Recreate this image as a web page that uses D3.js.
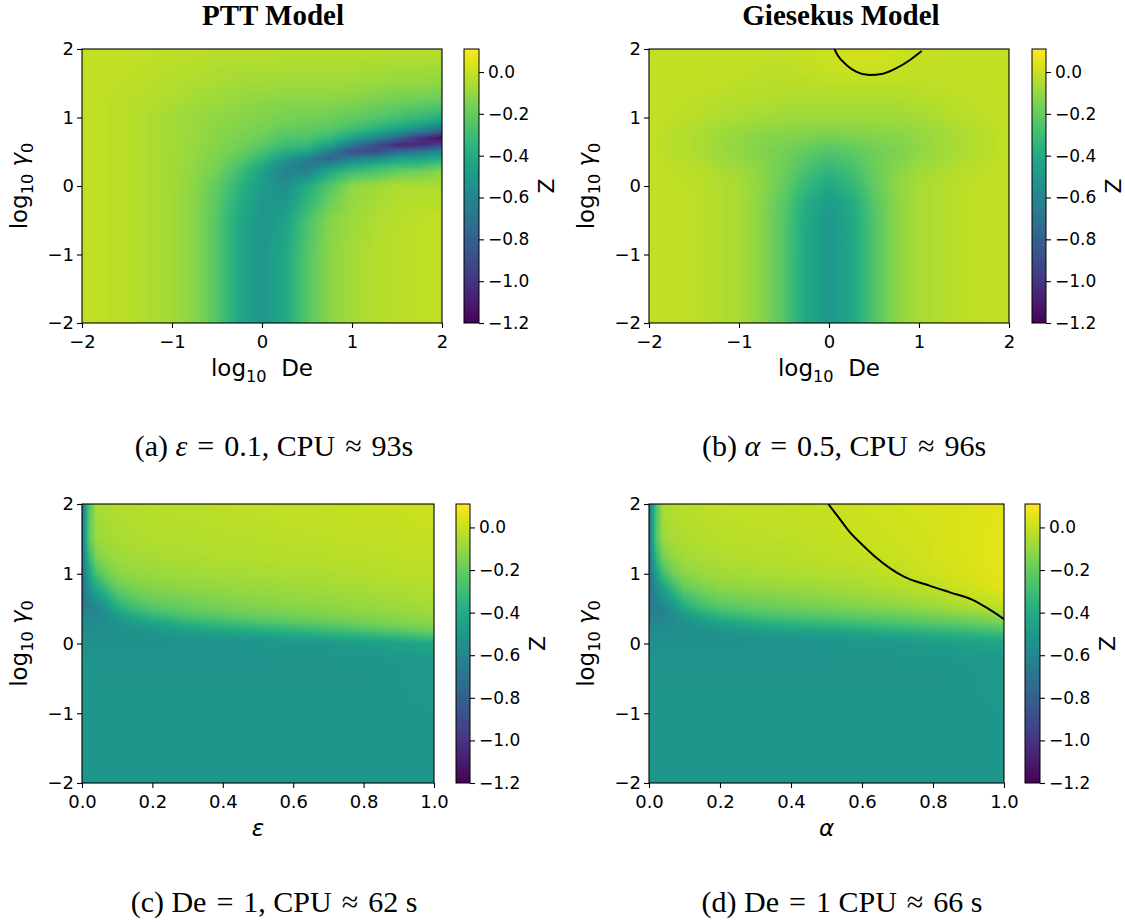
<!DOCTYPE html>
<html>
<head>
<meta charset="utf-8">
<script src="https://cdn.jsdelivr.net/npm/d3@7"></script>
<style>
  body { margin: 0; background: #fff; }
  svg { display: block; }
  text { white-space: pre; }
</style>
</head>
<body>
<svg id="fig" width="1125" height="922"></svg>
<script>
// colour range of the four maps
const zMin = -1.2, zMax = 0.11;
const cbarTicks = [0, -0.2, -0.4, -0.6, -0.8, -1.0, -1.2];
const logTicks = [-2, -1, 0, 1, 2];
const unitTicks = [0, 0.2, 0.4, 0.6, 0.8, 1.0];

// (a) PTT model, Z over log10 De (columns) and log10 gamma0 (rows, bottom first)
const pttDe = [-2, -1.5, -1, -0.75, -0.5, -0.25, 0, 0.25, 0.5, 0.75, 1, 1.25, 1.5, 1.75, 2];
const pttGamma = [-2, -1, -0.5, 0, 0.2, 0.3, 0.4, 0.5, 0.6, 0.7, 0.8, 0.9, 1, 1.25, 1.5, 2];
const pttZ = [
  [-0.01,-0.03,-0.07,-0.12,-0.24,-0.42,-0.51,-0.42,-0.24,-0.12,-0.07,-0.04,-0.03,-0.02,-0.01],
  [-0.01,-0.03,-0.07,-0.12,-0.24,-0.42,-0.51,-0.42,-0.24,-0.12,-0.07,-0.04,-0.03,-0.02,-0.01],
  [-0.01,-0.03,-0.07,-0.12,-0.24,-0.42,-0.51,-0.45,-0.27,-0.13,-0.08,-0.05,-0.03,-0.02,-0.01],
  [-0.01,-0.03,-0.07,-0.12,-0.21,-0.35,-0.49,-0.56,-0.40,-0.24,-0.11,-0.08,-0.05,-0.05,-0.05],
  [-0.01,-0.03,-0.07,-0.11,-0.17,-0.30,-0.45,-0.62,-0.60,-0.40,-0.29,-0.25,-0.19,-0.16,-0.12],
  [-0.01,-0.03,-0.07,-0.11,-0.16,-0.26,-0.40,-0.58,-0.68,-0.57,-0.42,-0.36,-0.31,-0.30,-0.23],
  [-0.01,-0.03,-0.07,-0.10,-0.15,-0.22,-0.33,-0.48,-0.64,-0.78,-0.65,-0.57,-0.47,-0.43,-0.38],
  [-0.01,-0.03,-0.07,-0.10,-0.14,-0.19,-0.27,-0.38,-0.42,-0.65,-0.90,-0.89,-0.76,-0.68,-0.59],
  [-0.01,-0.03,-0.07,-0.10,-0.13,-0.17,-0.22,-0.30,-0.32,-0.44,-0.67,-0.89,-1.06,-1.04,-0.95],
  [-0.01,-0.03,-0.07,-0.09,-0.12,-0.15,-0.19,-0.25,-0.26,-0.32,-0.45,-0.59,-0.78,-1.01,-1.16],
  [-0.01,-0.03,-0.07,-0.09,-0.12,-0.14,-0.17,-0.21,-0.22,-0.25,-0.32,-0.40,-0.51,-0.65,-0.82],
  [-0.01,-0.03,-0.07,-0.09,-0.11,-0.13,-0.15,-0.18,-0.19,-0.21,-0.25,-0.30,-0.36,-0.43,-0.54],
  [-0.01,-0.03,-0.07,-0.09,-0.11,-0.12,-0.14,-0.16,-0.17,-0.18,-0.21,-0.24,-0.28,-0.32,-0.38],
  [-0.01,-0.03,-0.05,-0.07,-0.08,-0.10,-0.11,-0.12,-0.12,-0.12,-0.13,-0.15,-0.17,-0.18,-0.20],
  [-0.01,-0.02,-0.04,-0.05,-0.06,-0.07,-0.07,-0.08,-0.08,-0.08,-0.08,-0.09,-0.10,-0.10,-0.11],
  [-0.01,-0.01,-0.02,-0.02,-0.03,-0.03,-0.03,-0.03,-0.03,-0.03,-0.03,-0.03,-0.03,-0.03,-0.03]
];

// (b) Giesekus model
const gieDe = [-2, -1.5, -1, -0.75, -0.5, -0.25, 0, 0.25, 0.5, 0.75, 1, 1.5, 2];
const gieGamma = [-2, -1, -0.5, -0.25, 0, 0.25, 0.5, 0.75, 1, 1.25, 1.5, 1.75, 2];
const gieZ = [
  [-0.01,-0.02,-0.06,-0.12,-0.24,-0.42,-0.51,-0.43,-0.25,-0.12,-0.06,-0.02,-0.01],
  [-0.01,-0.02,-0.06,-0.12,-0.24,-0.42,-0.51,-0.43,-0.25,-0.12,-0.06,-0.02,-0.01],
  [-0.01,-0.02,-0.06,-0.12,-0.24,-0.41,-0.51,-0.42,-0.25,-0.12,-0.06,-0.02,-0.01],
  [-0.01,-0.02,-0.06,-0.12,-0.23,-0.39,-0.48,-0.40,-0.24,-0.12,-0.06,-0.02,-0.01],
  [-0.01,-0.02,-0.06,-0.11,-0.20,-0.33,-0.42,-0.34,-0.21,-0.11,-0.06,-0.02,-0.01],
  [-0.01,-0.03,-0.08,-0.12,-0.18,-0.27,-0.33,-0.28,-0.19,-0.13,-0.08,-0.03,-0.01],
  [-0.01,-0.05,-0.11,-0.14,-0.17,-0.21,-0.25,-0.22,-0.18,-0.15,-0.11,-0.05,-0.01],
  [-0.01,-0.05,-0.10,-0.12,-0.13,-0.14,-0.15,-0.14,-0.13,-0.12,-0.10,-0.05,-0.01],
  [-0.01,-0.03,-0.06,-0.07,-0.08,-0.08,-0.08,-0.08,-0.08,-0.08,-0.07,-0.03,-0.01],
  [-0.01,-0.02,-0.04,-0.04,-0.05,-0.05,-0.05,-0.05,-0.05,-0.05,-0.04,-0.02,-0.01],
  [-0.01,-0.01,-0.02,-0.03,-0.03,-0.03,-0.02,-0.02,-0.02,-0.02,-0.02,-0.01,-0.01],
  [-0.01,-0.01,-0.01,-0.02,-0.02,-0.01, 0.00, 0.01, 0.01, 0.00,-0.01,-0.01,-0.01],
  [-0.01,-0.01,-0.01,-0.01,-0.01, 0.00, 0.01, 0.02, 0.02, 0.01, 0.00,-0.01,-0.01]
];
// black contour line in (b), [log10 De, log10 gamma0]
const gieContour = [[0.06, 2.0], [0.1, 1.9], [0.2, 1.76], [0.3, 1.67], [0.45, 1.62], [0.6, 1.64], [0.75, 1.72], [0.9, 1.84], [1.03, 1.97]];

// (c) PTT, De = 1, Z over epsilon (columns) and log10 gamma0 (rows)
const epsVals = [0, 0.01, 0.02, 0.04, 0.07, 0.1, 0.15, 0.2, 0.3, 0.4, 0.5, 0.6, 0.7, 0.8, 0.9, 1.0];
const epsGamma = [-2, -1, -0.25, 0, 0.1, 0.2, 0.3, 0.4, 0.5, 0.6, 0.8, 1, 1.25, 1.5, 2];
const epsZ = [
  [-0.51,-0.51,-0.51,-0.51,-0.51,-0.51,-0.51,-0.51,-0.51,-0.51,-0.51,-0.51,-0.51,-0.51,-0.51,-0.51],
  [-0.51,-0.51,-0.51,-0.51,-0.51,-0.51,-0.51,-0.51,-0.51,-0.51,-0.51,-0.51,-0.51,-0.51,-0.51,-0.51],
  [-0.52,-0.52,-0.52,-0.52,-0.52,-0.52,-0.52,-0.52,-0.52,-0.52,-0.52,-0.52,-0.52,-0.52,-0.51,-0.50],
  [-0.54,-0.54,-0.54,-0.54,-0.54,-0.54,-0.54,-0.54,-0.53,-0.53,-0.52,-0.51,-0.50,-0.48,-0.45,-0.41],
  [-0.55,-0.54,-0.54,-0.54,-0.54,-0.54,-0.54,-0.53,-0.51,-0.49,-0.47,-0.44,-0.41,-0.37,-0.33,-0.28],
  [-0.58,-0.56,-0.56,-0.56,-0.55,-0.54,-0.53,-0.50,-0.45,-0.40,-0.37,-0.33,-0.29,-0.25,-0.21,-0.17],
  [-0.62,-0.58,-0.58,-0.58,-0.56,-0.53,-0.48,-0.43,-0.35,-0.30,-0.26,-0.23,-0.20,-0.17,-0.14,-0.12],
  [-0.66,-0.60,-0.60,-0.60,-0.56,-0.48,-0.40,-0.33,-0.26,-0.22,-0.19,-0.17,-0.15,-0.13,-0.11,-0.09],
  [-0.70,-0.63,-0.62,-0.60,-0.52,-0.40,-0.30,-0.25,-0.20,-0.17,-0.15,-0.13,-0.12,-0.10,-0.09,-0.07],
  [-0.72,-0.64,-0.60,-0.54,-0.46,-0.32,-0.24,-0.20,-0.17,-0.14,-0.12,-0.11,-0.10,-0.09,-0.07,-0.06],
  [-0.74,-0.62,-0.54,-0.42,-0.30,-0.20,-0.15,-0.13,-0.11,-0.10,-0.09,-0.08,-0.07,-0.06,-0.05,-0.04],
  [-0.74,-0.56,-0.44,-0.27,-0.17,-0.12,-0.10,-0.09,-0.075,-0.065,-0.06,-0.055,-0.05,-0.04,-0.03,-0.025],
  [-0.72,-0.50,-0.32,-0.15,-0.10,-0.08,-0.065,-0.06,-0.05,-0.045,-0.04,-0.035,-0.03,-0.025,-0.02,-0.015],
  [-0.72,-0.44,-0.22,-0.09,-0.07,-0.06,-0.05,-0.045,-0.04,-0.035,-0.03,-0.025,-0.02,-0.015,-0.01,-0.005],
  [-0.72,-0.45,-0.25,-0.06,-0.05,-0.04,-0.035,-0.03,-0.025,-0.02,-0.015,-0.01,-0.005,0.0,0.0,0.01]
];

// (d) Giesekus, De = 1, Z over alpha (columns) and log10 gamma0 (rows)
const alphaVals = [0, 0.01, 0.02, 0.04, 0.07, 0.1, 0.15, 0.2, 0.3, 0.4, 0.5, 0.6, 0.7, 0.8, 0.9, 1.0];
const alphaGamma = [-2, -1, -0.25, 0, 0.1, 0.2, 0.3, 0.4, 0.5, 0.6, 0.8, 1, 1.25, 1.5, 2];
const alphaZ = [
  [-0.51,-0.51,-0.51,-0.51,-0.51,-0.51,-0.51,-0.51,-0.51,-0.51,-0.51,-0.51,-0.51,-0.51,-0.51,-0.51],
  [-0.51,-0.51,-0.51,-0.51,-0.51,-0.51,-0.51,-0.51,-0.51,-0.51,-0.51,-0.51,-0.51,-0.51,-0.51,-0.51],
  [-0.52,-0.52,-0.52,-0.52,-0.52,-0.52,-0.52,-0.52,-0.52,-0.52,-0.52,-0.52,-0.52,-0.52,-0.51,-0.50],
  [-0.54,-0.54,-0.54,-0.54,-0.54,-0.54,-0.54,-0.54,-0.53,-0.53,-0.52,-0.51,-0.50,-0.48,-0.46,-0.43],
  [-0.55,-0.55,-0.55,-0.55,-0.55,-0.55,-0.55,-0.54,-0.52,-0.50,-0.49,-0.47,-0.45,-0.42,-0.39,-0.36],
  [-0.58,-0.57,-0.57,-0.57,-0.56,-0.55,-0.54,-0.51,-0.47,-0.43,-0.41,-0.38,-0.35,-0.32,-0.29,-0.25],
  [-0.62,-0.59,-0.59,-0.59,-0.57,-0.54,-0.49,-0.44,-0.37,-0.33,-0.31,-0.28,-0.26,-0.23,-0.20,-0.16],
  [-0.66,-0.61,-0.61,-0.61,-0.57,-0.49,-0.41,-0.34,-0.28,-0.25,-0.23,-0.21,-0.19,-0.16,-0.13,-0.09],
  [-0.70,-0.64,-0.63,-0.61,-0.53,-0.41,-0.31,-0.26,-0.21,-0.19,-0.17,-0.15,-0.13,-0.10,-0.07,-0.03],
  [-0.72,-0.65,-0.61,-0.55,-0.47,-0.33,-0.25,-0.20,-0.17,-0.15,-0.13,-0.11,-0.09,-0.06,-0.03,0.01],
  [-0.74,-0.63,-0.56,-0.44,-0.31,-0.20,-0.15,-0.12,-0.10,-0.09,-0.08,-0.06,-0.04,-0.02,0.01,0.05],
  [-0.74,-0.58,-0.46,-0.29,-0.17,-0.12,-0.09,-0.075,-0.06,-0.05,-0.04,-0.03,-0.01,0.01,0.03,0.06],
  [-0.72,-0.52,-0.34,-0.16,-0.10,-0.07,-0.055,-0.045,-0.035,-0.03,-0.02,-0.01,0.0,0.02,0.04,0.06],
  [-0.72,-0.46,-0.24,-0.09,-0.06,-0.05,-0.04,-0.03,-0.025,-0.02,-0.01,0.0,0.01,0.02,0.04,0.06],
  [-0.72,-0.47,-0.27,-0.05,-0.04,-0.03,-0.02,-0.015,-0.01,-0.005,0.0,0.01,0.02,0.03,0.04,0.05]
];
// black contour line in (d), [alpha, log10 gamma0]
const alphaContour = [[0.505, 2.0], [0.535, 1.8], [0.565, 1.6], [0.6, 1.42], [0.637, 1.245], [0.718, 0.96], [0.79, 0.83], [0.85, 0.73], [0.91, 0.63], [0.952, 0.51], [1.0, 0.35]];

const sans = "'DejaVu Sans', sans-serif";
const serif = "'Liberation Serif', 'Times New Roman', serif";

const fig = d3.select("#fig");
const lut = d3.range(512).map((i) => d3.rgb(d3.interpolateViridis(i / 511)));
const color = d3.scaleSequential(d3.interpolateViridis).domain([zMin, zMax]);

// gouraud-like shading of the gridded values onto a canvas
function shade(g, xs, ys, zs, x, y) {
  const [l, r] = x.range();
  const [b, t] = y.range();
  const w = Math.round(r - l), h = Math.round(b - t);
  const cv = document.createElement("canvas");
  cv.width = w;
  cv.height = h;
  const ctx = cv.getContext("2d");
  const im = ctx.createImageData(w, h);
  const cell = (arr, v) => Math.max(0, Math.min(arr.length - 2, d3.bisectRight(arr, v) - 1));
  for (let j = 0; j < h; j++) {
    const yv = y.invert(t + j + 0.5);
    const rj = cell(ys, yv);
    const fy = Math.max(0, Math.min(1, (yv - ys[rj]) / (ys[rj + 1] - ys[rj])));
    for (let i = 0; i < w; i++) {
      const xv = x.invert(l + i + 0.5);
      const ci = cell(xs, xv);
      const fx = Math.max(0, Math.min(1, (xv - xs[ci]) / (xs[ci + 1] - xs[ci])));
      const z0 = zs[rj][ci] * (1 - fx) + zs[rj][ci + 1] * fx;
      const z1 = zs[rj + 1][ci] * (1 - fx) + zs[rj + 1][ci + 1] * fx;
      const z = z0 * (1 - fy) + z1 * fy;
      const k = Math.round(Math.max(0, Math.min(1, (z - zMin) / (zMax - zMin))) * 511);
      const c = lut[k], p = (j * w + i) * 4;
      im.data[p] = c.r;
      im.data[p + 1] = c.g;
      im.data[p + 2] = c.b;
      im.data[p + 3] = 255;
    }
  }
  ctx.putImageData(im, 0, 0);
  g.append("image")
    .attr("x", l).attr("y", t)
    .attr("width", w).attr("height", h)
    .attr("preserveAspectRatio", "none")
    .attr("href", cv.toDataURL());
}

// text with mathtext-like subscripts / italics
function mathText(text, parts, size) {
  let shift = 0;
  parts.forEach((p) => {
    const s = p.sub ? 0.24 * size : 0;
    const ts = text.append("tspan").text(p.t).attr("dy", s - shift);
    if (p.sub) ts.attr("font-size", size * 0.7);
    if (p.it) ts.attr("font-style", "italic");
    shift = s;
  });
}

const logDeLabel = [{ t: "log" }, { t: "10", sub: true }, { t: "  De" }];
const gammaLabel = [{ t: "log" }, { t: "10", sub: true }, { t: " " }, { t: "γ", it: true }, { t: "0", sub: true }];
const sp = "\u2004"; // math-like spacing around relations in the captions

const panels = [
  {
    box: { l: 82, r: 442, t: 49, b: 323 }, cb: { l: 464, r: 479 },
    xs: pttDe, ys: pttGamma, zs: pttZ, xDomain: [-2, 2], xTicks: logTicks, xFmt: d3.format("d"),
    xLabel: logDeLabel, title: "PTT Model", titleX: 273,
    caption: [{ t: "(a) " }, { t: "ε", it: true }, { t: `${sp}=${sp}0.1, CPU${sp}≈${sp}93s` }], capX: 274, capY: 456
  },
  {
    box: { l: 649, r: 1009, t: 49, b: 323 }, cb: { l: 1032, r: 1046 },
    xs: gieDe, ys: gieGamma, zs: gieZ, xDomain: [-2, 2], xTicks: logTicks, xFmt: d3.format("d"),
    xLabel: logDeLabel, title: "Giesekus Model", titleX: 841, contour: gieContour,
    caption: [{ t: "(b) " }, { t: "α", it: true }, { t: `${sp}=${sp}0.5, CPU${sp}≈${sp}96s` }], capX: 844, capY: 456
  },
  {
    box: { l: 82, r: 434, t: 504, b: 783 }, cb: { l: 456, r: 470 },
    xs: epsVals, ys: epsGamma, zs: epsZ, xDomain: [0, 1], xTicks: unitTicks, xFmt: d3.format(".1f"),
    xLabel: [{ t: "ε", it: true }],
    caption: [{ t: `(c) De${sp}=${sp}1, CPU${sp}≈${sp}62 s` }], capX: 274, capY: 912
  },
  {
    box: { l: 649, r: 1004, t: 504, b: 783 }, cb: { l: 1025, r: 1040 },
    xs: alphaVals, ys: alphaGamma, zs: alphaZ, xDomain: [0, 1], xTicks: unitTicks, xFmt: d3.format(".1f"),
    xLabel: [{ t: "α", it: true }], contour: alphaContour,
    caption: [{ t: `(d) De${sp}=${sp}1 CPU${sp}≈${sp}66 s` }], capX: 842, capY: 912
  }
];

// shared colorbar gradient
const defs = fig.append("defs");
const grad = defs.append("linearGradient").attr("id", "viridisBar")
  .attr("x1", 0).attr("y1", 1).attr("x2", 0).attr("y2", 0);
d3.range(0, 1.0001, 0.02).forEach((t) => {
  grad.append("stop").attr("offset", t).attr("stop-color", color(zMin + t * (zMax - zMin)));
});

panels.forEach((p, idx) => {
  const { box, cb } = p;
  const g = fig.append("g");
  const x = d3.scaleLinear().domain(p.xDomain).range([box.l, box.r]);
  const y = d3.scaleLinear().domain([-2, 2]).range([box.b, box.t]);

  shade(g, p.xs, p.ys, p.zs, x, y);

  if (p.contour) {
    defs.append("clipPath").attr("id", "clip" + idx)
      .append("rect").attr("x", box.l).attr("y", box.t)
      .attr("width", box.r - box.l).attr("height", box.b - box.t);
    g.append("path")
      .datum(p.contour)
      .attr("clip-path", `url(#clip${idx})`)
      .attr("d", d3.line().x((d) => x(d[0])).y((d) => y(d[1])).curve(d3.curveMonotoneX))
      .attr("fill", "none")
      .attr("stroke", "#000")
      .attr("stroke-width", 2);
  }

  g.append("rect")
    .attr("x", box.l).attr("y", box.t)
    .attr("width", box.r - box.l).attr("height", box.b - box.t)
    .attr("fill", "none").attr("stroke", "#000").attr("stroke-width", 1.1);

  const xAxis = g.append("g").attr("transform", `translate(0,${box.b})`)
    .call(d3.axisBottom(x).tickValues(p.xTicks).tickFormat(p.xFmt).tickSize(5).tickPadding(7));
  const yAxis = g.append("g").attr("transform", `translate(${box.l},0)`)
    .call(d3.axisLeft(y).tickValues(logTicks).tickFormat(d3.format("d")).tickSize(5).tickPadding(3));
  [xAxis, yAxis].forEach((a) => {
    a.attr("font-family", sans).attr("font-size", 18);
    a.select(".domain").remove();
    a.selectAll("line").attr("stroke-width", 1.1);
    a.selectAll("text").attr("fill", "#000");
  });

  // axis labels
  const xl = g.append("text")
    .attr("x", (box.l + box.r) / 2).attr("y", box.b + 53)
    .attr("text-anchor", "middle")
    .attr("font-family", sans).attr("font-size", 23);
  mathText(xl, p.xLabel, 23);

  const yl = g.append("text")
    .attr("transform", `translate(${box.l - 55},${(box.t + box.b) / 2}) rotate(-90)`)
    .attr("text-anchor", "middle")
    .attr("font-family", sans).attr("font-size", 23);
  mathText(yl, gammaLabel, 23);

  // colorbar
  const cy = d3.scaleLinear().domain([zMin, zMax]).range([box.b, box.t]);
  g.append("rect")
    .attr("x", cb.l).attr("y", box.t)
    .attr("width", cb.r - cb.l).attr("height", box.b - box.t)
    .attr("fill", "url(#viridisBar)")
    .attr("stroke", "#000").attr("stroke-width", 1);
  const cAxis = g.append("g").attr("transform", `translate(${cb.r},0)`)
    .call(d3.axisRight(cy).tickValues(cbarTicks).tickFormat(d3.format(".1f")).tickSize(5).tickPadding(4));
  cAxis.attr("font-family", sans).attr("font-size", 17);
  cAxis.select(".domain").remove();
  cAxis.selectAll("line").attr("stroke-width", 1.1);
  cAxis.selectAll("text").attr("fill", "#000");

  g.append("text")
    .attr("transform", `translate(${cb.r + 75},${(box.t + box.b) / 2}) rotate(-90)`)
    .attr("text-anchor", "middle")
    .attr("font-family", sans).attr("font-size", 22)
    .text("Z");

  if (p.title) {
    g.append("text")
      .attr("x", p.titleX).attr("y", 25)
      .attr("text-anchor", "middle")
      .attr("font-family", serif).attr("font-weight", "bold").attr("font-size", 29)
      .text(p.title);
  }

  const cap = g.append("text")
    .attr("x", p.capX).attr("y", p.capY)
    .attr("text-anchor", "middle")
    .attr("font-family", serif).attr("font-size", 30);
  mathText(cap, p.caption, 30);
});
</script>
</body>
</html>
